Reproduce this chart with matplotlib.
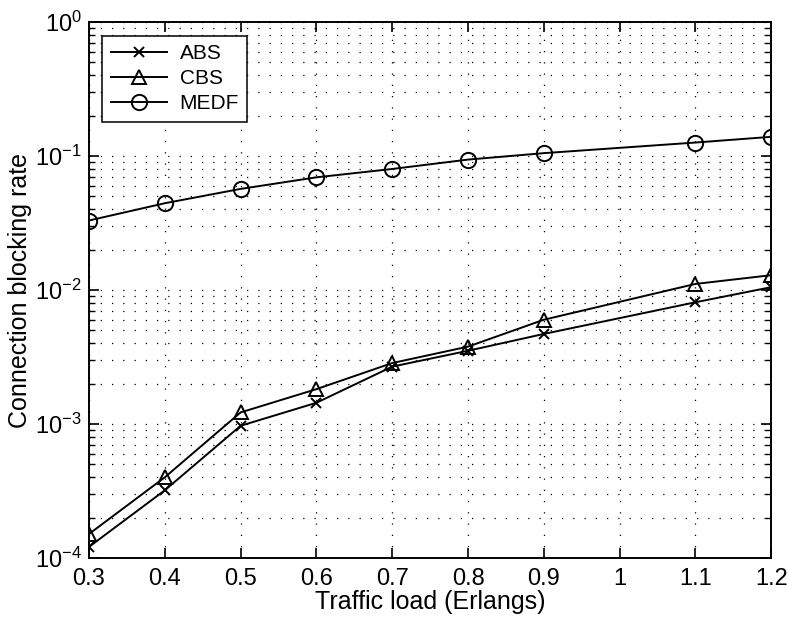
import numpy as np
import matplotlib
matplotlib.use('Agg')
import matplotlib.pyplot as plt
from matplotlib.ticker import LogLocator, NullFormatter

plt.rcParams['font.family'] = ['Liberation Sans', 'DejaVu Sans']
plt.rcParams['mathtext.fontset'] = 'custom'
plt.rcParams['mathtext.rm'] = 'Liberation Sans'
plt.rcParams['mathtext.it'] = 'Liberation Sans'

# traffic load (Erlangs) - no point at 1.0
load = [0.3, 0.4, 0.5, 0.6, 0.7, 0.8, 0.9, 1.1, 1.2]

abs_rate = [1.21e-4, 3.2e-4, 9.7e-4, 1.44e-3, 2.68e-3, 3.52e-3, 4.7e-3, 8.1e-3, 1.05e-2]
cbs_rate = [1.51e-4, 4.0e-4, 1.22e-3, 1.82e-3, 2.85e-3, 3.78e-3, 6.0e-3, 1.11e-2, 1.29e-2]
medf_rate = [0.033, 0.0444, 0.0568, 0.0693, 0.080, 0.094, 0.105, 0.126, 0.139]

xticks = [0.3, 0.4, 0.5, 0.6, 0.7, 0.8, 0.9, 1.0, 1.1, 1.2]
xticklabels = ['0.3', '0.4', '0.5', '0.6', '0.7', '0.8', '0.9', '1', '1.1', '1.2']

fig = plt.figure(figsize=(7.87, 6.19), dpi=100)
ax = fig.add_axes([0.113, 0.0985, 0.867, 0.866])

ax.plot(load, abs_rate, color='black', lw=1.4, marker='x', ms=7, mew=1.4, label='ABS')
ax.plot(load, cbs_rate, color='black', lw=1.4, marker='^', ms=10, mfc='none', mew=1.4, label='CBS')
ax.plot(load, medf_rate, color='black', lw=1.4, marker='o', ms=11, mfc='none', mew=1.4, label='MEDF')

ax.set_yscale('log')
ax.set_ylim(1e-4, 1)
ax.set_xlim(0.3, 1.2)
ax.set_xticks(xticks)
ax.set_xticklabels(xticklabels)
ax.yaxis.set_major_locator(LogLocator(base=10, numticks=10))
ax.yaxis.set_minor_locator(LogLocator(base=10, subs=np.arange(2, 10), numticks=20))
ax.yaxis.set_minor_formatter(NullFormatter())

dots = (0, (1, 8))
ax.grid(True, which='major', axis='both', linestyle=dots, color='black', lw=0.9)
ax.grid(True, which='minor', axis='y', linestyle=dots, color='black', lw=0.9)

ax.tick_params(which='both', direction='in', top=True, right=True, labelsize=17, color='black')
ax.tick_params(which='major', length=7, width=1.2)
ax.tick_params(which='minor', length=4, width=1.0)
ax.tick_params(axis='x', pad=7)
ax.tick_params(axis='y', pad=5)
for s in ax.spines.values():
    s.set_linewidth(1.4)

ax.set_xlabel('Traffic load (Erlangs)', fontsize=18, labelpad=0)
ax.set_ylabel('Connection blocking rate', fontsize=18)
ax.yaxis.set_label_coords(-0.083, 0.5)

leg = ax.legend(loc='upper left', fontsize=15, fancybox=False, edgecolor='black',
                framealpha=1, borderaxespad=0.65, handlelength=2.7, handletextpad=0.6,
                labelspacing=0.3, borderpad=0.4)
leg.get_frame().set_linewidth(1.1)

fig.savefig('out.png', dpi=100)
